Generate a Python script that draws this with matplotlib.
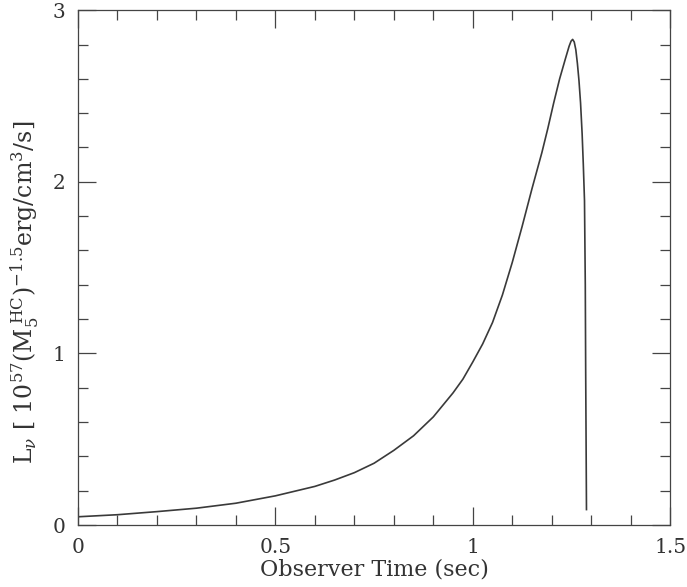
import matplotlib.pyplot as plt
from matplotlib.ticker import MultipleLocator

# observer time (sec) and luminosity
t_obs = [0.0, 0.1, 0.2, 0.3, 0.4, 0.5, 0.6, 0.65, 0.7, 0.75, 0.8, 0.85, 0.9,
         0.95, 0.975, 1.0, 1.025, 1.05, 1.075, 1.1, 1.125, 1.15, 1.175, 1.19,
         1.205, 1.22, 1.235, 1.244, 1.249, 1.253, 1.257, 1.261, 1.265, 1.269,
         1.273, 1.277, 1.28, 1.283, 1.285, 1.286, 1.287, 1.288]
lum = [0.048, 0.060, 0.078, 0.098, 0.127, 0.170, 0.225, 0.262, 0.305, 0.360,
       0.435, 0.52, 0.63, 0.77, 0.85, 0.95, 1.055, 1.18, 1.34, 1.53, 1.74,
       1.96, 2.17, 2.31, 2.46, 2.60, 2.72, 2.79, 2.82, 2.83, 2.815, 2.77,
       2.69, 2.59, 2.46, 2.28, 2.10, 1.89, 1.40, 0.90, 0.50, 0.09]

plt.rcParams['font.family'] = 'DejaVu Serif'
plt.rcParams['mathtext.fontset'] = 'dejavuserif'

fig = plt.figure(figsize=(6.87, 5.87), dpi=100)
ax = fig.add_axes([0.1135, 0.1056, 0.862, 0.877])

ax.plot(t_obs, lum, color='#3a3a3a', lw=1.2)

ax.set_xlim(0, 1.5)
ax.set_ylim(0, 3)
ax.xaxis.set_minor_locator(MultipleLocator(0.1))
ax.yaxis.set_minor_locator(MultipleLocator(0.2))
ax.set_xticks([0, 0.5, 1, 1.5], ['0', '0.5', '1', '1.5'])
ax.set_yticks([0, 1, 2, 3], ['0', '1', '2', '3'])
ax.tick_params(which='both', direction='in', top=True, right=True,
               color='#444444', width=0.9, labelsize=14.5, colors='#333333')
ax.tick_params(which='major', length=13, pad=9)
ax.tick_params(which='minor', length=7)
for s in ax.spines.values():
    s.set_color('#444444')
    s.set_linewidth(0.9)

ax.set_xlabel('Observer Time (sec)', fontsize=16, color='#333333')
ax.xaxis.set_label_coords(0.501, -0.066)
ax.set_ylabel(r'L$_\nu$ [ 10$^{57}$(M$_5^{\;\rm HC}$)$^{-1.5}$erg/cm$^3$/s]',
              fontsize=17, color='#333333')
ax.yaxis.set_label_coords(-0.063, 0.452)

fig.savefig('out.png', dpi=100)
